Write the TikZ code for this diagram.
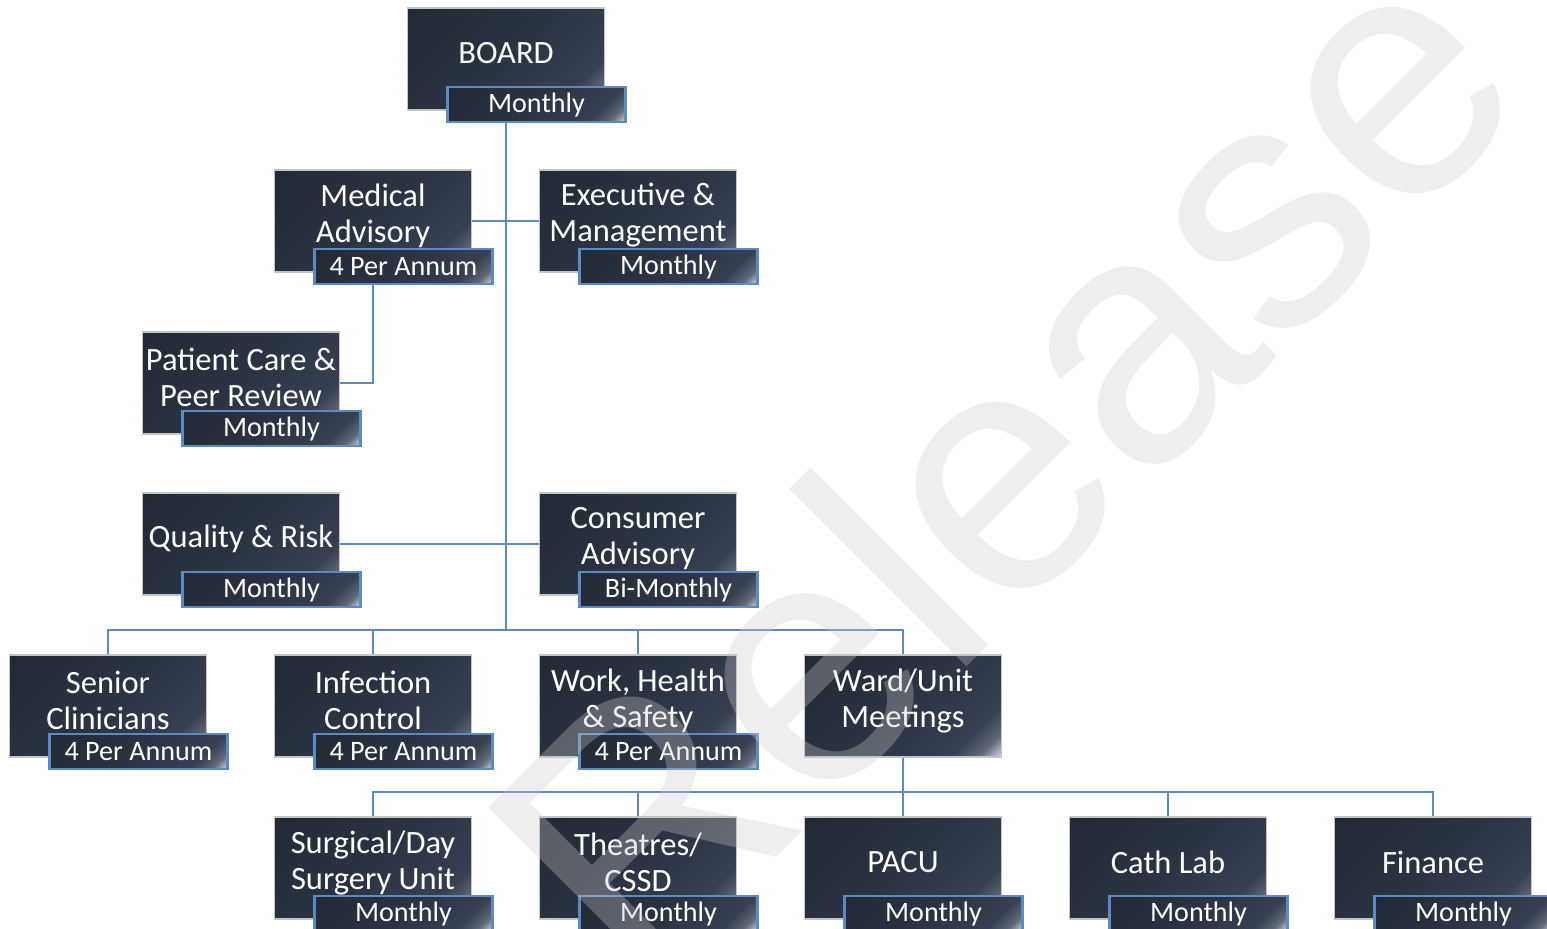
\documentclass[tikz,border=0pt]{standalone}
\usepackage{fontspec}
\setmainfont{Carlito}
\newfontfamily\markfont{Liberation Sans}
\usetikzlibrary{positioning,backgrounds,calc}
\definecolor{navyA}{HTML}{222A36}
\definecolor{navyB}{HTML}{2B3443}
\definecolor{navyC}{HTML}{364051}
\definecolor{glint}{HTML}{E2E6EC}
\definecolor{linkblue}{HTML}{5A8BC6}
\definecolor{rimgray}{HTML}{C4C4C4}
\definecolor{markgray}{HTML}{CBCBCB}
\pgfdeclarehorizontalshading{navyglow}{100bp}{color(0bp)=(navyA); color(15bp)=(navyA);
  color(50bp)=(navyB); color(73bp)=(navyC); color(80bp)=(navyC!75!glint);
  color(86bp)=(glint); color(100bp)=(glint)}
\tikzset{
  mainbox/.style={
    draw = rimgray,
    line width = 0.45pt,
    shading = navyglow,
    shading angle = -45,
    minimum width = 1.97cm,
    minimum height = 1.02cm,
    inner sep = 0pt
  },
  subbox/.style={
    draw = linkblue,
    line width = 0.6pt,
    shading = navyglow,
    shading angle = -45,
    minimum width = 1.78cm,
    minimum height = 0.35cm,
    inner sep = 0pt,
    text = white,
    font = \fontsize{8}{9}\selectfont
  },
  boxtext/.style={
    text = white,
    align = center,
    inner sep = 0pt,
    font = \fontsize{9.25}{10.24}\selectfont
  },
  link/.style={
    draw = linkblue,
    line width = 0.6pt
  },
  watermark/.style={
    text = markgray,
    opacity = 0.32,
    rotate = 45,
    anchor = base,
    inner sep = 0pt,
    font = \fontsize{98.6}{100}\markfont
  }
}

\begin{document}
\begin{tikzpicture}[x=0.1mm, y=-0.1mm]
    \useasboundingbox (0,0) rectangle (1547,928);
    \clip (0,0) rectangle (1547,928);
    \foreach \nm/\cx/\cy/\txt/\freq in {
        board/506/59/BOARD/Monthly,
        medical/373/221/{Medical\\Advisory}/{4 Per Annum},
        executive/638/221/{Executive \&\\Management}/Monthly,
        patient/241/383/{Patient Care \&\\Peer Review}/Monthly,
        quality/241/544/{Quality \& Risk}/Monthly,
        consumer/638/544/{Consumer\\Advisory}/Bi-Monthly,
        senior/108/706/{Senior\\Clinicians}/{4 Per Annum},
        infection/373/706/{Infection\\Control}/{4 Per Annum},
        whs/638/706/{Work, Health\\\& Safety}/{4 Per Annum},
        surgical/373/868/{Surgical/Day\\Surgery Unit}/Monthly,
        theatres/638/868/{Theatres/\\CSSD}/Monthly,
        pacu/903/868/PACU/Monthly,
        cathlab/1168/868/Cath Lab/Monthly,
        finance/1433/868/Finance/Monthly}{
        \node[mainbox] (\nm) at (\cx,\cy) {};
        \node[boxtext] (\nm-t) at ([yshift=0.55mm]\nm.center) {\txt};
        \node[subbox] (\nm-f) at ([xshift=3.05mm, yshift=0.6mm]\nm.south) {\freq};
    }
    \node[mainbox] (ward) at (903,706) {};
    \node[boxtext] (ward-t) at ([yshift=0.55mm]ward.center) {Ward/Unit\\Meetings};
    \coordinate (hub) at (506,630);
    \coordinate (wardhub) at (903,792);
    \begin{scope}[on background layer]
        \draw[link] (board.south) -- (hub);
        \draw[link] (medical.east) -- (executive.west);
        \draw[link] (medical.south) |- (patient.east);
        \draw[link] (quality.east) -- (consumer.west);
        \foreach \n in {senior,infection,whs,ward}
            \draw[link] (hub) -| (\n.north);
        \draw[link] (ward.south) -- (wardhub);
        \foreach \n in {surgical,theatres,pacu,cathlab,finance}
            \draw[link] (wardhub) -| (\n.north);
    \end{scope}
    \node[watermark] (mark) at (1087,547) {Release};
\end{tikzpicture}
\end{document}
